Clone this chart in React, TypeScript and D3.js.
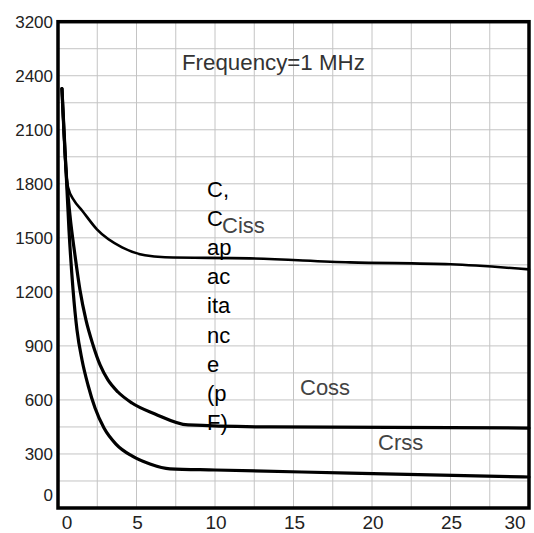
import React from "react";
import * as d3 from "d3";

const xTickValues = [0, 5, 10, 15, 20, 25, 30];
const xTickLabels = ["0", "5", "10", "15", "20", "25", "30"];
const yTickValues = [0, 300, 600, 900, 1200, 1500, 1800, 2100, 2400, 2700];
const yTickLabels = ["0", "300", "600", "900", "1200", "1500", "1800", "2100", "2400", "3200"];

const cissX = [0.25, 0.51, 0.64, 1.02, 1.53, 2.48, 4.08, 5.54, 6.82, 12.2, 18.6, 25.0, 30];
const cissY = [2329, 1874, 1780, 1708, 1652, 1547, 1447, 1403, 1392, 1386, 1364, 1353, 1325];

const cossX = [0.25, 0.51, 0.76, 1.08, 1.40, 1.78, 2.23, 2.68, 3.18, 3.82, 4.71, 6.18, 8.28, 13.5, 30];
const cossY = [2329, 1877, 1627, 1405, 1210, 1044, 905, 794, 711, 644, 583, 522, 461, 450, 444];

const crssX = [0.25, 0.51, 0.70, 0.96, 1.21, 1.53, 1.91, 2.36, 2.93, 3.69, 4.71, 5.86, 7.13, 10.0, 18.6, 30];
const crssY = [2329, 1877, 1543, 1210, 988, 822, 683, 555, 444, 355, 289, 244, 217, 211, 194, 172];

const seriesNames = ["Ciss", "Coss", "Crss"];
const annotation = "Frequency=1 MHz";
const yTitle = "C, Capacitance (pF)";
const yTitleLines = ["C,", "C", "ap", "ac", "ita", "nc", "e", "(p", "F)"];

export default function App() {
  const W = 534, H = 533;
  const x = d3.scaleLinear().domain([0, 30]).range([58, 529]);
  const y = d3.scaleLinear().domain([0, 2700]).range([508, 21.7]);

  const line = d3
    .line<[number, number]>()
    .x((d) => x(d[0]))
    .y((d) => y(d[1]))
    .curve(d3.curveMonotoneX);

  const series = [
    { name: seriesNames[0], xs: cissX, ys: cissY, w: 2.6 },
    { name: seriesNames[1], xs: cossX, ys: cossY, w: 3.2 },
    { name: seriesNames[2], xs: crssX, ys: crssY, w: 3.2 },
  ];

  const vGrid = d3.range(0, 30.001, 2.5);
  const hGrid = d3.range(0, 2700.001, 150);

  const font = "'Liberation Sans', Arial, sans-serif";

  return (
    <svg
      width={W}
      height={H}
      style={{ position: "fixed", left: 0, top: 0, background: "#fff" }}
      fontFamily={font}
    >
      <rect x={0} y={0} width={W} height={H} fill="#fff" />
      {vGrid.map((v, i) => (
        <line key={"v" + i} x1={x(v)} x2={x(v)} y1={y(2700)} y2={y(0)} stroke="#c4c4c4" strokeWidth={1} />
      ))}
      {hGrid.map((v, i) => (
        <line key={"h" + i} x1={x(0)} x2={x(30)} y1={y(v)} y2={y(v)} stroke="#c4c4c4" strokeWidth={1} />
      ))}

      {series.map((s) => (
        <path
          key={s.name}
          d={line(s.xs.map((v, i) => [v, s.ys[i]] as [number, number])) || ""}
          fill="none"
          stroke="#000"
          strokeWidth={s.w}
          strokeLinejoin="round"
          strokeLinecap="round"
        />
      ))}

      <rect
        x={x(0)}
        y={y(2700)}
        width={x(30) - x(0)}
        height={y(0) - y(2700)}
        fill="none"
        stroke="#000"
        strokeWidth={3.5}
      />

      {yTickValues.map((v, i) => (
        <text
          key={"yt" + i}
          x={53}
          y={y(v) + (i === 0 ? -13 : 0)}
          dy="0.36em"
          textAnchor="end"
          fontSize={17}
          fill="#222"
        >
          {yTickLabels[i]}
        </text>
      ))}
      {xTickValues.map((v, i) => (
        <text
          key={"xt" + i}
          x={x(v) + (i === 0 ? 9 : i === xTickValues.length - 1 ? -14 : 1)}
          y={529}
          textAnchor="middle"
          fontSize={19}
          fill="#222"
        >
          {xTickLabels[i]}
        </text>
      ))}

      <text x={182} y={70} fontSize={22.3} fill="#333">
        {annotation}
      </text>
      <text x={222} y={233} fontSize={22} fill="#444">
        {seriesNames[0]}
      </text>
      <text x={300} y={395} fontSize={22} fill="#444">
        {seriesNames[1]}
      </text>
      <text x={378} y={450} fontSize={22} fill="#444">
        {seriesNames[2]}
      </text>

      <text x={207} y={197} fontSize={22} fill="#000" aria-label={yTitle}>
        {yTitleLines.map((l, i) => (
          <tspan key={i} x={207} dy={i === 0 ? 0 : 29.1}>
            {l}
          </tspan>
        ))}
      </text>
    </svg>
  );
}
